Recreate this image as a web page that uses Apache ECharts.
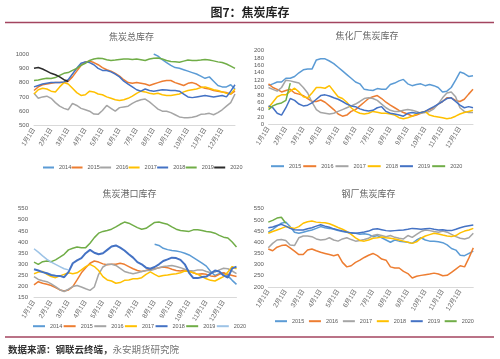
<!DOCTYPE html>
<html><head><meta charset="utf-8">
<script src="https://cdn.jsdelivr.net/npm/echarts@6/dist/echarts.min.js"></script>
<style>html,body{margin:0;padding:0;background:#fff}#c{width:500px;height:359px}</style>
</head><body><div id="c"></div>
<script>
const categories = ["1月1日","1月8日","1月15日","1月22日","2月1日","2月8日","2月15日","2月22日","3月1日","3月8日","3月15日","3月22日","4月1日","4月8日","4月15日","4月22日","5月1日","5月8日","5月15日","5月22日","6月1日","6月8日","6月15日","6月22日","7月1日","7月8日","7月15日","7月22日","8月1日","8月8日","8月15日","8月22日","9月1日","9月8日","9月15日","9月22日","10月1日","10月8日","10月15日","10月22日","11月1日","11月8日","11月15日","11月22日","12月1日","12月8日","12月15日","12月22日"];

// 焦炭总库存
const tl2014 = [null,null,null,null,null,null,null,null,null,null,null,null,null,null,null,null,null,null,null,null,null,null,null,null,null,null,null,null,1000,985,960,940,920,905,900,890,880,870,860,845,830,840,810,780,770,770,785,755];
const tl2015 = [745,770,785,790,795,800,800,800,810,840,880,920,945,950,940,925,905,890,880,865,845,820,800,795,800,795,790,780,790,800,810,815,815,800,790,780,795,800,790,770,760,755,745,740,735,730,720,740];
const tl2016 = [725,690,700,705,690,660,635,620,610,655,640,620,610,600,580,578,605,640,620,600,625,630,635,655,670,680,685,665,640,615,600,600,590,575,560,555,555,558,565,578,580,585,575,590,610,635,660,720];
const tl2017 = [720,750,760,755,740,735,770,800,790,760,730,710,715,740,735,720,715,700,690,680,675,680,690,705,725,740,735,725,720,725,715,710,710,715,720,735,745,750,755,765,770,760,750,745,735,725,720,755];
const tl2018 = [770,780,790,795,800,800,800,805,820,860,900,935,945,940,925,900,885,885,875,860,840,810,790,770,750,740,755,745,740,745,750,748,745,745,740,720,700,695,700,705,710,705,700,705,710,700,740,785];
const tl2019 = [815,818,825,830,828,835,850,865,870,885,900,920,935,955,965,970,968,960,955,958,962,965,965,962,965,960,955,965,970,972,965,955,948,945,942,950,958,955,955,958,962,958,952,945,940,930,915,900];
const tl2020 = [900,905,895,880,865,855,840,820,808];

// 焦化厂焦炭库存
const tr2015 = [105,110,115,115,125,125,130,140,148,150,150,175,178,178,172,165,155,145,135,125,115,110,95,93,92,97,95,95,108,112,118,122,110,105,108,110,105,108,105,100,88,90,100,120,142,138,130,132];
const tr2016 = [110,100,95,88,92,95,85,82,78,70,62,62,66,60,50,40,28,22,25,35,40,50,60,70,75,78,70,60,52,45,38,32,28,22,25,30,35,40,45,55,62,72,72,65,62,68,82,95];
const tr2017 = [100,95,90,100,120,118,115,112,100,85,60,40,32,30,28,30,35,40,45,50,55,62,70,72,70,65,55,45,38,35,35,38,40,38,35,30,32,35,42,55,72,85,88,75,45,35,32,32];
const tr2018 = [45,60,75,80,80,90,98,88,75,72,85,100,100,98,105,90,75,70,60,45,35,30,28,30,35,33,30,30,28,25,18,15,18,22,28,32,35,25,22,20,18,15,17,22,28,32,35,38];
const tr2019 = [50,45,30,25,45,70,65,55,50,52,58,68,78,80,77,72,68,62,55,50,48,42,38,36,38,45,48,35,30,28,25,22,30,32,30,32,35,42,48,55,62,70,72,62,52,45,48,45];
const tr2020 = [40,50,55,58,65,112];

// 焦炭港口库存
const bl2014 = [null,null,null,null,null,null,null,null,null,null,null,null,null,null,null,null,null,null,null,null,null,null,null,null,null,null,null,null,390,385,372,366,362,360,356,350,342,330,318,305,292,268,250,258,262,248,228,210];
const bl2015 = [208,222,215,210,205,195,185,180,185,200,230,262,285,305,315,310,302,298,300,300,305,300,290,280,272,268,272,278,280,285,288,285,278,272,270,275,270,262,255,258,255,248,245,255,262,255,250,245];
const bl2016 = [245,232,226,222,212,200,186,178,188,200,205,198,190,183,198,255,288,300,300,295,282,268,262,258,262,268,272,272,278,285,290,292,295,290,285,278,272,270,275,275,268,262,265,275,282,280,270,258];
const bl2017 = [258,265,268,255,245,240,248,255,262,258,262,275,290,300,290,272,245,230,225,215,218,228,230,235,235,240,255,266,255,245,250,252,255,258,262,270,268,262,255,245,235,228,225,235,245,265,290,280];
const bl2018 = [278,272,265,260,252,249,248,242,265,305,318,328,350,365,352,345,350,365,380,385,375,362,345,330,310,300,285,280,288,300,315,322,330,328,320,300,262,238,238,243,245,258,272,268,250,240,282,290];
const bl2019 = [310,300,312,315,312,320,332,345,365,372,378,375,375,395,420,440,448,452,458,468,480,490,485,475,465,458,462,475,488,490,485,480,468,458,452,450,448,455,455,452,448,445,440,430,422,418,400,378];
const bl2020 = [370,355,338,322,310,300,290,280,275];

// 钢厂焦炭库存
const br2015 = [445,458,472,485,490,470,445,440,445,450,455,462,470,465,462,458,452,448,445,440,440,436,438,435,425,430,420,410,400,410,405,402,400,395,410,420,410,405,405,402,398,388,372,365,342,340,350,360];
const br2016 = [370,362,378,385,388,375,360,345,345,365,370,362,355,350,345,340,345,310,290,295,310,320,332,342,350,340,325,320,290,285,285,270,260,240,248,252,255,258,262,258,250,252,265,280,295,290,330,375];
const br2017 = [375,395,410,412,408,388,385,420,428,428,425,415,410,412,420,410,405,415,420,412,405,408,412,418,430,435,430,425,430,422,418,415,430,422,435,448,455,452,448,445,450,445,435,425,418,415,420,440];
const br2018 = [440,448,455,462,470,466,462,470,485,492,495,490,488,487,483,475,466,458,448,435,420,408,405,410,418,420,423,420,418,415,410,405,400,395,402,418,428,434,440,437,432,428,426,430,442,450,455,462];
const br2019 = [465,468,475,480,472,462,456,455,455,460,465,472,478,472,467,460,455,450,446,442,440,443,446,450,458,460,456,452,450,452,454,455,458,462,460,458,460,462,458,455,456,453,452,458,465,470,474,477];
const br2020 = [490,498,508,512,485];

const C = {lb:'#5B9BD5', or:'#ED7D31', gr:'#A5A5A5', ye:'#FFC000', bl:'#4472C4', gn:'#70AD47', bk:'#2b2b2b', pb:'#9DC3E6'};

function mk(name, data, color, ax, w) {
  return {type:'line', name:name, data:data, xAxisIndex:ax, yAxisIndex:ax, symbol:'none', showSymbol:false,
    lineStyle:{color:color, width:w||1.5}, itemStyle:{color:color}, silent:true, connectNulls:false};
}
const series = [
  mk('a2014', tl2014, C.lb, 0), mk('a2015', tl2015, C.or, 0), mk('a2016', tl2016, C.gr, 0), mk('a2017', tl2017, C.ye, 0),
  mk('a2018', tl2018, C.bl, 0), mk('a2019', tl2019, C.gn, 0), mk('a2020', tl2020, C.bk, 0),
  mk('b2015', tr2015, C.lb, 1), mk('b2016', tr2016, C.or, 1), mk('b2017', tr2017, C.gr, 1), mk('b2018', tr2018, C.ye, 1),
  mk('b2019', tr2019, C.bl, 1), mk('b2020', tr2020, C.gn, 1),
  mk('c2014', bl2014, C.lb, 2), mk('c2015', bl2015, C.or, 2), mk('c2016', bl2016, C.gr, 2), mk('c2017', bl2017, C.ye, 2),
  mk('c2018', bl2018, C.bl, 2, 2), mk('c2019', bl2019, C.gn, 2), mk('c2020', bl2020, C.pb, 2),
  mk('d2015', br2015, C.lb, 3), mk('d2016', br2016, C.or, 3), mk('d2017', br2017, C.gr, 3), mk('d2018', br2018, C.ye, 3),
  mk('d2019', br2019, C.bl, 3), mk('d2020', br2020, C.gn, 3)
];

const grids = [
  {left:34, top:54, width:201, height:71.5},
  {left:268.5, top:50.7, width:204.5, height:73.6},
  {left:34, top:208.7, width:202.5, height:89},
  {left:268.3, top:208.7, width:205, height:78.3}
];
const yCfg = [
  {min:500, max:1000, interval:100, margin:5},
  {min:0, max:200, interval:20, margin:4.5},
  {min:150, max:550, interval:50, margin:6},
  {min:200, max:550, interval:50, margin:4.5}
];
const lblColor = '#595959';
const xAxes = grids.map((g,i)=>({type:'category', gridIndex:i, data:categories, boundaryGap:false,
  axisLine:{show:true, lineStyle:{color:'#d9d9d9', width:1}}, axisTick:{show:false}, splitLine:{show:false},
  axisLabel:{interval:(idx, val)=>/月1日$/.test(val), rotate:58, fontSize:6.5, color:'#666', margin:3, fontFamily:'Liberation Sans, "Noto Sans CJK SC"'}}));
const yAxes = yCfg.map((c,i)=>({type:'value', gridIndex:i, min:c.min, max:c.max, interval:c.interval,
  axisLine:{show:false}, axisTick:{show:false}, splitLine:{show:false},
  axisLabel:{fontSize:6, color:lblColor, margin:c.margin, fontFamily:'Liberation Sans', formatter:(v)=>String(v)}}));

function lg(names, left, top, iw, gap) {
  return {data:names, left:left, top:top, padding:0, itemWidth:iw, itemHeight:2, itemGap:gap, icon:'rect',
    formatter:(n)=>n.slice(1), textStyle:{fontSize:5.5, color:lblColor, fontFamily:'Liberation Sans'}, selectedMode:false};
}
const legends = [
  lg(['a2014','a2015','a2016','a2017','a2018','a2019','a2020'], 43, 164.5, 11, 0.3),
  lg(['b2015','b2016','b2017','b2018','b2019','b2020'], 271, 163.2, 13, 2),
  lg(['c2014','c2015','c2016','c2017','c2018','c2019','c2020'], 33, 323.2, 12, 1.4),
  lg(['d2015','d2016','d2017','d2018','d2019','d2020'], 275, 318.2, 12, 4.7)
];

const subTitle = (t,x,y)=>({type:'text', x:x, y:y, silent:true, style:{text:t, align:'center', verticalAlign:'middle',
  font:'9px "Noto Sans CJK SC"', fill:'#666'}});
const graphic = [
  {type:'text', x:250, y:12.5, silent:true, style:{text:'图7：焦炭库存', align:'center', verticalAlign:'middle', font:'bold 12px "Noto Sans CJK SC"', fill:'#222'}},
  {type:'line', silent:true, shape:{x1:5, y1:22.5, x2:494, y2:22.5}, style:{stroke:'#a3445f', lineWidth:1.5}},
  {type:'line', silent:true, shape:{x1:5, y1:337, x2:494, y2:337}, style:{stroke:'#a3445f', lineWidth:1.5}},
  subTitle('焦炭总库存', 131.5, 36.7),
  subTitle('焦化厂焦炭库存', 367, 36),
  subTitle('焦炭港口库存', 129.5, 194),
  subTitle('钢厂焦炭库存', 368.5, 193.3),
  {type:'text', x:8, y:349, silent:true, style:{text:'{a|数据来源：钢联云终端，}{b|永安期货研究院}', align:'left', verticalAlign:'middle',
    rich:{a:{font:'bold 9.5px "Noto Sans CJK SC"', fill:'#333'}, b:{font:'9.5px "Noto Sans CJK SC"', fill:'#777'}}}}
];

const chart = echarts.init(document.getElementById('c'), null, {renderer:'canvas'});
chart.setOption({animation:false, backgroundColor:'#fff', grid:grids, xAxis:xAxes, yAxis:yAxes, legend:legends, series:series, graphic:graphic});
</script></body></html>
